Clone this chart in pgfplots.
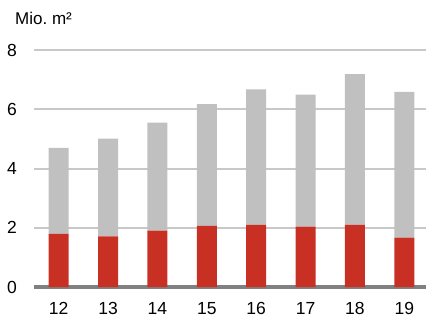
\documentclass[border=0pt]{standalone}
\usepackage{pgfplots}
\pgfplotsset{compat=1.18}
\usepackage{fontspec}
\setmainfont{Liberation Sans}
\definecolor{barred}{RGB}{200,48,36}
\definecolor{bargray}{RGB}{192,192,192}
\definecolor{gridgray}{RGB}{200,200,200}
\definecolor{axisgray}{RGB}{128,128,128}

\begin{document}
\begin{tikzpicture}
\useasboundingbox (-34bp,-36bp) rectangle (392bp,287bp);
\begin{axis}[
  at={(0,0)}, anchor=south west,
  scale only axis, width=392bp, height=237bp,
  xmin=-0.5, xmax=7.44, ymin=0, ymax=8,
  ybar stacked, bar width=20bp,
  axis line style={draw=none}, tick style={draw=none},
  ymajorgrids, grid style={gridgray, line width=2bp},
  ytick={0,2,4,6,8},
  xtick={0,...,7}, xticklabels={12,13,14,15,16,17,18,19},
  /pgf/number format/assume math mode=true,
  tick label style={font=\fontsize{17.5bp}{19bp}\selectfont},
  yticklabel style={anchor=east, inner sep=0pt, xshift=-17bp},
  xticklabel style={anchor=base, inner sep=0pt, yshift=-27.3bp},
  clip=false,
]
% lower part (red)
\addplot[fill=barred, draw=none] coordinates {
  (0,1.79) (1,1.71) (2,1.90) (3,2.06) (4,2.10) (5,2.04) (6,2.10) (7,1.67)};
% upper part (grey)
\addplot[fill=bargray, draw=none] coordinates {
  (0,2.91) (1,3.30) (2,3.65) (3,4.11) (4,4.57) (5,4.45) (6,5.09) (7,4.92)};
\draw[axisgray, line width=4bp] (rel axis cs:0,0) -- (rel axis cs:1,0);
\end{axis}
\node[anchor=west, inner sep=0pt, font=\fontsize{17bp}{19bp}\selectfont] at (-19bp,269bp) {Mio.\ m²};
\end{tikzpicture}
\end{document}
